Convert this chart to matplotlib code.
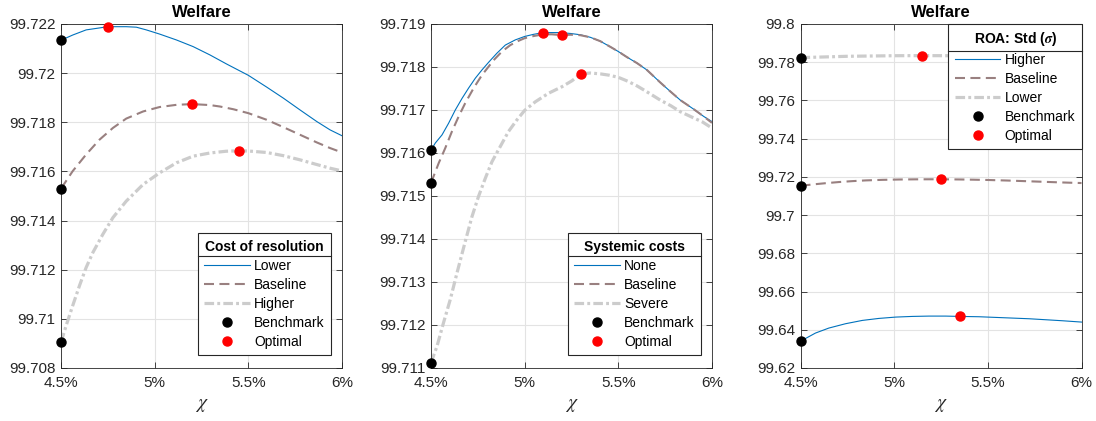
import numpy as np
import matplotlib.pyplot as plt
from matplotlib.lines import Line2D

plt.rcParams['font.family'] = ['Liberation Sans', 'DejaVu Sans']
plt.rcParams['mathtext.fontset'] = 'stix'

BLUE = '#0072BD'
BROWN = (0.6, 0.5, 0.5)
GREY = (0.8, 0.8, 0.8)
DARK = '#262626'

# --- cost of resolution -----------------------------------------------------
cr_low_x = [4.5, 4.562, 4.634, 4.75, 4.848, 4.902, 4.955, 5.026, 5.116,
            5.205, 5.295, 5.384, 5.5, 5.598, 5.687, 5.776, 5.865, 5.936, 6.0]
cr_low_y = [99.72134, 99.72155, 99.72176, 99.72189, 99.72189, 99.72187,
            99.72176, 99.72159, 99.72135, 99.72108, 99.72074, 99.72037,
            99.71991, 99.71943, 99.71898, 99.71850, 99.71803, 99.71769,
            99.71745]

base_x = [4.5, 4.562, 4.634, 4.705, 4.777, 4.848, 4.938, 5.026, 5.116, 5.2,
          5.295, 5.349, 5.420, 5.5, 5.598, 5.687, 5.776, 5.865, 5.936, 6.0]
base_y = [99.71530, 99.71601, 99.71669, 99.71729, 99.71777, 99.71815,
          99.71844, 99.71862, 99.71871, 99.71874, 99.71870, 99.71864,
          99.71853, 99.71837, 99.71810, 99.71780, 99.71749, 99.71718,
          99.71695, 99.71677]

cr_high_x = [4.5, 4.527, 4.562, 4.598, 4.634, 4.670, 4.723, 4.777, 4.848,
             4.938, 5.026, 5.116, 5.205, 5.295, 5.380, 5.45, 5.5, 5.598,
             5.687, 5.776, 5.865, 5.936, 6.0]
cr_high_y = [99.70905, 99.70972, 99.71053, 99.71134, 99.71209, 99.71270,
             99.71344, 99.71412, 99.71479, 99.71547, 99.71594, 99.71635,
             99.71662, 99.71675, 99.71682, 99.71684, 99.71683, 99.71677,
             99.71664, 99.71647, 99.71628, 99.71613, 99.71602]

cr_bench = [99.72134, 99.71530, 99.70905]
cr_opt_x = [4.75, 5.2, 5.45]
cr_opt_y = [99.72189, 99.71874, 99.71684]

# --- systemic costs ---------------------------------------------------------
sc_none_x = [4.5, 4.523, 4.559, 4.594, 4.630, 4.666, 4.701, 4.737, 4.772,
             4.81, 4.852, 4.897, 4.950, 5.0, 5.048, 5.1, 5.190, 5.244, 5.297,
             5.351, 5.404, 5.457, 5.5, 5.546, 5.600, 5.653, 5.724, 5.778,
             5.831, 5.902, 5.956, 6.0]
sc_none_y = [99.71606, 99.71623, 99.71642, 99.71669, 99.71700, 99.71727,
             99.71751, 99.71774, 99.71793, 99.71812, 99.71832, 99.71851,
             99.71863, 99.71871, 99.71876, 99.71880, 99.71880, 99.71878,
             99.71875, 99.71869, 99.71860, 99.71847, 99.71836, 99.71823,
             99.71809, 99.71793, 99.71764, 99.71743, 99.71723, 99.71702,
             99.71685, 99.71673]

sc_base_x = [4.5, 4.541, 4.576, 4.612, 4.648, 4.683, 4.728, 4.772, 4.835,
             4.879, 4.924, 4.968, 5.0, 5.048, 5.101, 5.146, 5.2, 5.244, 5.297,
             5.351, 5.404, 5.457, 5.5, 5.546, 5.600, 5.653, 5.724, 5.778,
             5.831, 5.902, 5.956, 6.0]
sc_base_y = [99.71530, 99.71576, 99.71611, 99.71650, 99.71685, 99.71716,
             99.71751, 99.71781, 99.71816, 99.71836, 99.71851, 99.71861,
             99.71867, 99.71872, 99.71876, 99.71876, 99.71874, 99.71875,
             99.71874, 99.71869, 99.71860, 99.71847, 99.71836, 99.71823,
             99.71809, 99.71793, 99.71764, 99.71743, 99.71723, 99.71702,
             99.71685, 99.71670]

sc_sev_x = [4.5, 4.532, 4.567, 4.603, 4.639, 4.683, 4.719, 4.754, 4.790,
            4.826, 4.870, 4.914, 4.959, 5.0, 5.057, 5.128, 5.199, 5.253, 5.3,
            5.35, 5.404, 5.45, 5.5, 5.55, 5.6, 5.65, 5.724, 5.78, 5.831, 5.9,
            5.95, 6.0]
sc_sev_y = [99.71112, 99.71150, 99.71205, 99.71259, 99.71321, 99.71394,
            99.71452, 99.71499, 99.71541, 99.71580, 99.71615, 99.71650,
            99.71677, 99.71699, 99.71719, 99.71739, 99.71754, 99.71768,
            99.71784, 99.71786, 99.71784, 99.71781, 99.71776, 99.71767,
            99.71756, 99.71743, 99.71723, 99.71710, 99.71696, 99.71682,
            99.71672, 99.71658]

sc_bench = [99.71606, 99.71530, 99.71112]
sc_opt_x = [5.1, 5.2, 5.3]
sc_opt_y = [99.71880, 99.71874, 99.71784]

# --- ROA volatility ---------------------------------------------------------
roa_high_x = [4.5, 4.580, 4.651, 4.740, 4.830, 4.918, 5.008, 5.097, 5.185,
              5.275, 5.350, 5.453, 5.542, 5.631, 5.720, 5.809, 5.898, 6.0]
roa_high_y = [99.6340, 99.63827, 99.64087, 99.64314, 99.64488, 99.64592,
              99.64662, 99.64697, 99.64714, 99.64714, 99.64697, 99.64680,
              99.64645, 99.64610, 99.64575, 99.64523, 99.64470, 99.64401]

roa_low_x = [4.5, 4.75, 5.0, 5.15, 5.3, 5.5, 5.75, 6.0]
roa_low_y = [99.7824, 99.7831, 99.7834, 99.78345, 99.7834, 99.7832,
             99.7829, 99.7825]

roa_bench = [99.6340, 99.71530, 99.7824]
roa_opt_x = [5.35, 5.25, 5.15]
roa_opt_y = [99.64697, 99.71872, 99.78345]

xticks = [4.5, 5.0, 5.5, 6.0]
xticklabels = ['4.5%', '5%', '5.5%', '6%']

STYLES = [
    dict(color=BLUE, lw=0.8, ls='-'),
    dict(color=BROWN, lw=1.5, ls=(0, (4.8, 2.6))),
    dict(color=GREY, lw=2.3, ls=(0, (3.0, 1.0, 0.9, 1.0))),
]
FS = 11
LFS = 10


def panel(ax, curves, bench, opt_x, opt_y, ylim, yticks, yfmt,
          title, labels, loc, anchor):
    for (x, y), st in zip(curves, STYLES):
        ax.plot(x, y, solid_joinstyle='round', **st)
    ax.plot([4.5] * len(bench), bench, 'o', color='k', ms=6.5, zorder=5,
            clip_on=False)
    ax.plot(opt_x, opt_y, 'o', color='r', ms=6.5, zorder=5, clip_on=False)

    ax.set_xlim(4.5, 6.0)
    ax.set_ylim(*ylim)
    ax.set_xticks(xticks)
    ax.set_xticklabels(xticklabels)
    ax.set_yticks(yticks)
    ax.set_yticklabels([yfmt(v) for v in yticks])
    ax.grid(True, color='#e3e3e3', lw=0.8)
    ax.set_axisbelow(True)
    ax.tick_params(direction='in', top=True, right=True, length=4,
                   width=0.6, colors=DARK, labelsize=FS)
    ax.tick_params(axis='x', pad=6)
    ax.tick_params(axis='y', pad=4)
    for s in ax.spines.values():
        s.set_color(DARK)
        s.set_linewidth(0.6)
    ax.set_title('Welfare', fontsize=12, fontweight='bold', pad=5)
    ax.set_xlabel(r'$\chi$', fontsize=14, color=DARK, labelpad=5)

    handles = [Line2D([], [], **st) for st in STYLES]
    handles += [Line2D([], [], ls='none', marker='o', color='k', ms=6.5),
                Line2D([], [], ls='none', marker='o', color='r', ms=6.5)]
    leg = ax.legend(handles, labels + ['Benchmark', 'Optimal'], loc=loc,
                    bbox_to_anchor=anchor, title=title, fontsize=LFS,
                    title_fontproperties={'weight': 'bold', 'size': LFS},
                    handlelength=3.3, handletextpad=0.3, labelspacing=0.36,
                    borderpad=0.45, borderaxespad=0, fancybox=False,
                    framealpha=1, edgecolor=DARK)
    leg.get_frame().set_linewidth(0.8)
    return leg


fig = plt.figure(figsize=(10.96, 4.21), dpi=100)
bottom, height, width = 0.126, 0.817, 0.2564
ax1 = fig.add_axes([0.0557, bottom, width, height])
ax2 = fig.add_axes([0.3932, bottom, width, height])
ax3 = fig.add_axes([0.7304, bottom, width, height])

legs = []
legs.append(panel(ax1, [(cr_low_x, cr_low_y), (base_x, base_y),
                        (cr_high_x, cr_high_y)],
                  cr_bench, cr_opt_x, cr_opt_y,
                  (99.708, 99.722), np.arange(99.708, 99.7221, 0.002),
                  lambda v: f'{v:.3f}'.rstrip('0'),
                  'Cost of resolution', ['Lower', 'Baseline', 'Higher'],
                  'lower right', (0.961, 0.038)))
legs.append(panel(ax2, [(sc_none_x, sc_none_y), (sc_base_x, sc_base_y),
                        (sc_sev_x, sc_sev_y)],
                  sc_bench, sc_opt_x, sc_opt_y,
                  (99.711, 99.719), np.arange(99.711, 99.7191, 0.001),
                  lambda v: f'{v:.3f}',
                  'Systemic costs', ['None', 'Baseline', 'Severe'],
                  'lower right', (0.961, 0.038)))
legs.append(panel(ax3, [(roa_high_x, roa_high_y), (base_x, base_y),
                        (roa_low_x, roa_low_y)],
                  roa_bench, roa_opt_x, roa_opt_y,
                  (99.62, 99.80), np.arange(99.62, 99.801, 0.02),
                  lambda v: f'{v:.2f}'.rstrip('0'),
                  r'ROA: Std ($\boldsymbol{\sigma}$)',
                  ['Higher', 'Baseline', 'Lower'],
                  'upper right', (1.0, 1.0)))

# separator line between each legend title and its entries
fig.canvas.draw()
r = fig.canvas.get_renderer()
inv = fig.transFigure.inverted()
for leg in legs:
    fb = leg.get_frame().get_window_extent(r)
    tb = leg.get_title().get_window_extent(r)
    first = leg.get_texts()[0].get_window_extent(r)
    yline = 0.5 * (tb.y0 + first.y1)
    (x0, y0), (x1, _) = inv.transform([(fb.x0, yline), (fb.x1, yline)])
    fig.add_artist(Line2D([x0, x1], [y0, y0], color=DARK, lw=0.8,
                          transform=fig.transFigure, zorder=10))

fig.savefig('out.png', dpi=100)
